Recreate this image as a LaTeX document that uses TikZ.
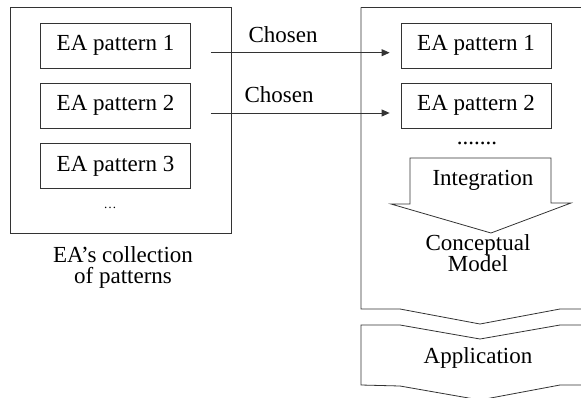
\documentclass[tikz,border=0pt]{standalone}
\usepackage{fontspec}
\setmainfont{Liberation Serif}
\newfontfamily\tmsfont{Liberation Serif}
\usetikzlibrary{arrows.meta}
\begin{document}
\begin{tikzpicture}[x=1pt,y=-1pt,
  line/.style={draw=black!80, line width=0.8pt},
  txt/.style={font=\tmsfont\fontsize{23}{21}\selectfont, inner sep=0pt, align=center},
  patbox/.style={line, txt, minimum width=150pt, minimum height=45pt},
  flow/.style={line, -{Triangle[length=8pt,width=7pt]}}]
\useasboundingbox (0,0) rectangle (581,397);
\fill[white] (0,0) rectangle (581,397);

% collection of patterns
\draw[line] (10.7,7.3) rectangle (231,233);
\node[patbox] (l1) at (115.5,45.5) {EA pattern 1};
\node[patbox] (l2) at (115.5,105.5) {EA pattern 2};
\node[patbox] (l3) at (115.5,166) {EA pattern 3};
\node[txt, font=\tmsfont\fontsize{13}{14}\selectfont] (ldots) at (110,208) {\ldots};
\node[txt] (coll) at (123,267) {EA’s collection\\of patterns};

% conceptual model container
\draw[line] (361,7.3) -- (581,7.3);
\draw[line] (361,7.3) -- (361,309) -- (400,309) -- (480,324) -- (560,309) -- (581,309);
\node[patbox] (r1) at (476,45.5) {EA pattern 1};
\node[patbox] (r2) at (476,105.5) {EA pattern 2};
\node[txt] (rdots) at (477,143) {.......};

% integration arrow
\draw[line] (410,158) -- (551,158) -- (551,203) -- (571,203) -- (491,233)
  -- (391,204) -- (410,204) -- cycle;
\node[txt] (integ) at (483,180) {Integration};
\node[txt] (model) at (478,253) {Conceptual\\Model};

% application chevron
\draw[line] (581,325) -- (560,325) -- (480,339) -- (400,325) -- (361,325)
  -- (361,385) -- (400,386) -- (480,400) -- (560,385) -- (581,385);
\node[txt] (app) at (478,358) {Application};

% chosen patterns
\draw[flow, shorten <=20pt, shorten >=11pt] ([yshift=-7.2pt]l1.east) -- ([yshift=-7.2pt]r1.west);
\draw[flow, shorten <=20pt, shorten >=11pt] ([yshift=-7.5pt]l2.east) -- ([yshift=-7.5pt]r2.west);
\node[txt] (c1) at (283,35) {Chosen};
\node[txt] (c2) at (279,95) {Chosen};
\end{tikzpicture}
\end{document}
